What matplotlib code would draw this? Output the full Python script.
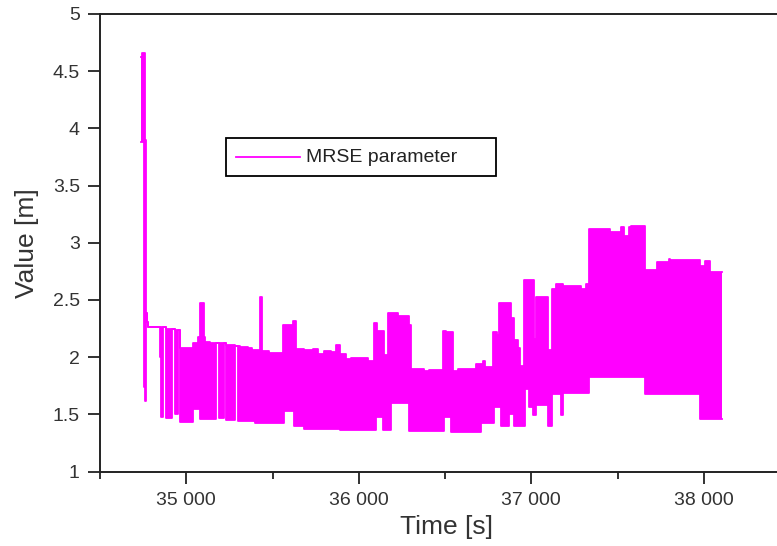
import matplotlib
matplotlib.use("Agg")
import matplotlib.pyplot as plt
from matplotlib.patches import Rectangle
from matplotlib.lines import Line2D

plt.rcParams['font.family'] = ['Liberation Sans', 'DejaVu Sans']

# ---- data ----
# step breakpoints [s], upper and lower envelope of the fast-oscillating MRSE signal [m]
time_s = [34738, 34745, 34753, 34758, 34764, 34770, 34779, 34845, 34855, 34868,
          34881, 34917, 34932, 34955, 34963, 35041, 35066, 35081, 35101, 35110,
          35140, 35174, 35188, 35217, 35233, 35285, 35298, 35314, 35360, 35384,
          35401, 35426, 35438, 35477, 35558, 35564, 35616, 35622, 35634, 35680,
          35733, 35762, 35797, 35837, 35866, 35890, 35924, 35953, 36052, 36087,
          36099, 36105, 36140, 36145, 36169, 36186, 36227, 36291, 36302, 36378,
          36407, 36488, 36494, 36506, 36535, 36547, 36576, 36680, 36709, 36721,
          36733, 36779, 36785, 36802, 36814, 36826, 36872, 36884, 36901, 36924,
          36936, 36959, 36965, 36988, 37012, 37017, 37029, 37099, 37122, 37145,
          37174, 37186, 37291, 37320, 37337, 37454, 37523, 37535, 37564, 37576,
          37657, 37727, 37797, 37803, 37977, 38006, 38035, 38105]
upper_m = [4.62, 4.66, 4.66, 3.90, 2.39, 2.31, 2.26, 2.26, 2.26, 2.26,
           2.25, 2.25, 2.24, 2.24, 2.08, 2.12, 2.175, 2.47, 2.175, 2.13,
           2.12, 2.12, 2.12, 2.12, 2.11, 2.10, 2.10, 2.09, 2.08, 2.06,
           2.06, 2.53, 2.055, 2.04, 2.28, 2.28, 2.32, 2.32, 2.07, 2.06,
           2.07, 2.03, 2.05, 2.045, 2.11, 2.03, 1.98, 1.99, 1.97, 2.30,
           2.30, 2.23, 2.23, 2.02, 2.39, 2.39, 2.36, 2.28, 1.90, 1.88,
           1.89, 2.23, 2.23, 2.22, 2.22, 1.88, 1.90, 1.94, 1.94, 1.97,
           1.91, 2.22, 2.22, 2.19, 2.47, 2.47, 2.47, 2.34, 2.15, 2.08,
           1.92, 2.67, 2.67, 2.67, 2.67, 2.16, 2.53, 2.06, 2.60, 2.64,
           2.64, 2.62, 2.60, 2.64, 3.12, 3.095, 3.14, 3.06, 3.14, 3.15,
           2.76, 2.83, 2.86, 2.85, 2.80, 2.84, 2.74, 2.74]
lower_m = [3.88, 3.88, 1.74, 1.62, 2.39, 2.31, 2.26, 2.00, 1.48, 2.26,
           1.47, 2.25, 1.50, 2.24, 1.43, 1.55, 1.55, 1.46, 1.46, 1.46,
           1.46, 2.12, 1.47, 2.12, 1.45, 2.10, 1.44, 1.44, 1.44, 1.44,
           1.42, 1.42, 1.42, 1.42, 1.42, 1.53, 1.53, 1.40, 1.40, 1.37,
           1.37, 1.37, 1.37, 1.37, 1.37, 1.36, 1.36, 1.36, 1.36, 1.36,
           1.48, 1.48, 1.36, 1.36, 1.36, 1.60, 1.60, 1.35, 1.35, 1.35,
           1.35, 1.35, 1.48, 1.48, 1.345, 1.345, 1.345, 1.345, 1.42, 1.42,
           1.42, 1.42, 1.56, 1.56, 1.56, 1.40, 1.50, 1.50, 1.40, 1.40,
           1.40, 1.40, 1.72, 1.56, 1.49, 1.49, 1.58, 1.40, 1.68, 1.68,
           1.49, 1.69, 1.69, 1.69, 1.83, 1.83, 1.83, 1.83, 1.83, 1.83,
           1.68, 1.675, 1.675, 1.675, 1.46, 1.46, 1.46, 1.46]

x_ticks = [35000, 36000, 37000, 38000]
x_tick_labels = ["35 000", "36 000", "37 000", "38 000"]
x_minor_ticks = [34500, 35500, 36500, 37500]
y_ticks = [1, 1.5, 2, 2.5, 3, 3.5, 4, 4.5, 5]
y_tick_labels = ["1", "1.5", "2", "2.5", "3", "3.5", "4", "4.5", "5"]
series_name = "MRSE parameter"

MAG = "#ff00ff"

fig = plt.figure(figsize=(7.77, 5.46), dpi=100)
W, H = 777, 546
AX_L, AX_B, AX_W, AX_H = 100, 74.5, 677, 457.5
ax = fig.add_axes([AX_L / W, AX_B / H, AX_W / W, AX_H / H])

ax.fill_between(time_s, lower_m, upper_m, step='post', color=MAG, linewidth=0)
ax.step(time_s, upper_m, where='post', color=MAG, lw=1.3)
ax.step(time_s, lower_m, where='post', color=MAG, lw=1.3)

# visible x range ends at the picture edge (axis continues beyond the crop)
ax.set_xlim(34500, 34500 + 4000 * AX_W / 690)
ax.set_ylim(1, 5)
ax.set_xticks(x_ticks)
ax.set_xticklabels(x_tick_labels)
ax.set_xticks(x_minor_ticks, minor=True)
ax.set_yticks(y_ticks)
ax.set_yticklabels(y_tick_labels)

ax.spines['right'].set_visible(False)
for s in ['left', 'bottom', 'top']:
    ax.spines[s].set_linewidth(1.4)
    ax.spines[s].set_color('#222222')

ax.tick_params(axis='both', which='major', direction='out', length=8.5, width=1.3,
               color='#222222', labelsize=14, labelcolor='#333333', pad=6)
ax.tick_params(axis='x', which='minor', direction='out', length=5, width=1.3,
               color='#222222')

ax.set_xlabel("Time [s]", fontsize=19, color='#333333', labelpad=7)
ax.xaxis.set_label_coords((447 - AX_L) / AX_W, -0.095)
ax.set_ylabel("Value [m]", fontsize=19, color='#333333', labelpad=10)

# legend box drawn by hand (Scilab-style wide box)
def fx(px):
    return (px - AX_L) / AX_W

def fy(py):
    return (H - AX_B - py) / AX_H

ax.add_patch(Rectangle((fx(226), fy(176)), fx(496) - fx(226), fy(138) - fy(176),
                       transform=ax.transAxes, facecolor='white', edgecolor='black',
                       linewidth=1.3, zorder=5))
ax.add_line(Line2D([fx(236), fx(300)], [fy(157), fy(157)], transform=ax.transAxes,
                   color=MAG, lw=1.3, zorder=6))
ax.text(fx(306), fy(157), series_name, transform=ax.transAxes, fontsize=14,
        color='#222222', va='center', ha='left', zorder=6)

fig.savefig("out.png", dpi=100)
